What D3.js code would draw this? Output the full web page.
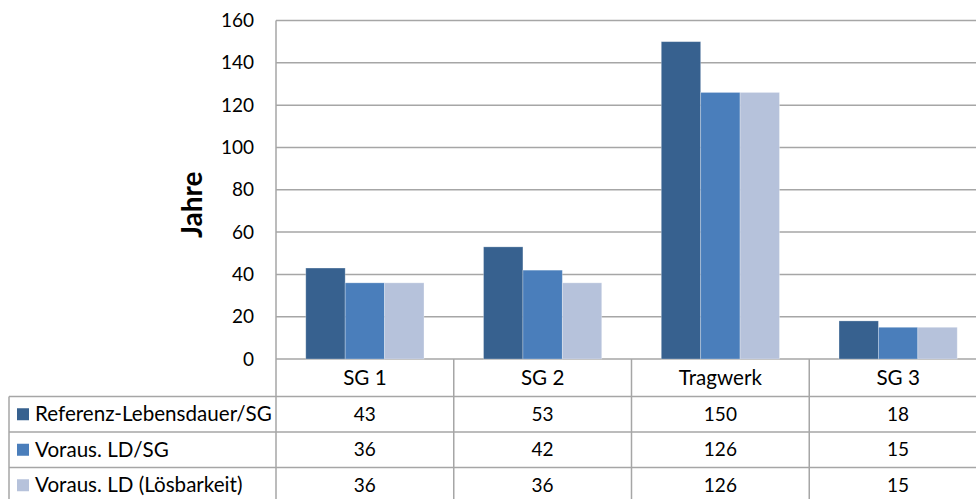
<!DOCTYPE html>
<html>
<head>
<meta charset="utf-8">
<script src="https://cdn.jsdelivr.net/npm/d3@7"></script>
<style>
  html, body { margin: 0; padding: 0; background: #fff; }
  svg { display: block; }
  text { font-family: Lato, "Open Sans", sans-serif; fill: #000; }
</style>
</head>
<body>
<svg id="chart" width="976" height="499"></svg>
<script>
// Categories (table columns) and series (table rows)
const categories = ["SG 1", "SG 2", "Tragwerk", "SG 3"];
const seriesNames = ["Referenz-Lebensdauer/SG", "Voraus. LD/SG", "Voraus. LD (Lösbarkeit)"];
const referenzLD = [43, 53, 150, 18];
const vorausLD = [36, 42, 126, 15];
const vorausLoesbarkeit = [36, 36, 126, 15];
const seriesColors = ["#37618f", "#4a7ebb", "#b6c2db"];
const yTicks = [0, 20, 40, 60, 80, 100, 120, 140, 160];

const seriesValues = [referenzLD, vorausLD, vorausLoesbarkeit];

const svg = d3.select("#chart");
const gridColor = "#a6a6a6";
const numSize = 19;     // digits: tick labels and table values
const labelSize = 20.6; // words: category headers and series names

const plot = { left: 276, right: 987, top: 20.5, bottom: 359 };
const tableLeft = 9;
const headerBottom = 396.5;
const rowH = 35.5;

const x0 = d3.scaleBand().domain(categories).range([plot.left, plot.right]).padding(0);
const y = d3.scaleLinear().domain([0, 160]).range([plot.bottom, plot.top]);
const gap = x0.bandwidth() * 0.335 / 2;
const x1 = d3.scaleBand().domain(d3.range(seriesNames.length)).range([gap, x0.bandwidth() - gap]).padding(0);

// Horizontal gridlines
svg.append("g").selectAll("line").data(yTicks).join("line")
  .attr("x1", plot.left).attr("x2", plot.right)
  .attr("y1", d => y(d)).attr("y2", d => y(d))
  .attr("stroke", gridColor).attr("stroke-width", 1.5);

// Y axis tick labels
const yAxis = d3.axisLeft(y).tickValues(yTicks).tickSize(0).tickPadding(22);
const ya = svg.append("g").attr("transform", `translate(${plot.left},0)`).call(yAxis);
ya.select(".domain").remove();
ya.selectAll("text").attr("font-size", numSize).attr("font-family", "Lato, 'Open Sans', sans-serif").attr("fill", "#000");

// Y axis title
svg.append("text")
  .attr("transform", `translate(202,${(plot.top + plot.bottom) / 2 + 15}) rotate(-90)`)
  .attr("text-anchor", "middle")
  .attr("font-size", 28).attr("font-weight", "bold")
  .text("Jahre");

// Bars
categories.forEach((cat, ci) => {
  const g = svg.append("g").attr("transform", `translate(${x0(cat)},0)`);
  g.selectAll("rect").data(seriesValues.map((s, si) => ({ si, v: s[ci] }))).join("rect")
    .attr("x", d => x1(d.si))
    .attr("width", x1.bandwidth())
    .attr("y", d => y(d.v))
    .attr("height", d => y(0) - y(d.v))
    .attr("fill", d => seriesColors[d.si])
    .attr("stroke", "rgba(255,255,255,0.35)").attr("stroke-width", 0.8);
});

// Data table lines
const tbl = svg.append("g").attr("stroke", gridColor).attr("stroke-width", 1.5);
// vertical axis line through plot and table
tbl.append("line").attr("x1", plot.left).attr("x2", plot.left).attr("y1", plot.top).attr("y2", 499);
// column separators
categories.slice(1).forEach(cat => {
  tbl.append("line").attr("x1", x0(cat)).attr("x2", x0(cat)).attr("y1", plot.bottom).attr("y2", 499);
});
// horizontal row lines
tbl.append("line").attr("x1", tableLeft).attr("x2", plot.right).attr("y1", headerBottom).attr("y2", headerBottom);
d3.range(1, seriesNames.length).forEach(i => {
  const yy = headerBottom + i * rowH;
  tbl.append("line").attr("x1", tableLeft).attr("x2", plot.right).attr("y1", yy).attr("y2", yy);
});
// left border of the legend column
tbl.append("line").attr("x1", tableLeft).attr("x2", tableLeft).attr("y1", headerBottom).attr("y2", 499);

// Header: category names
svg.append("g").selectAll("text").data(categories).join("text")
  .attr("x", d => x0(d) + x0.bandwidth() / 2)
  .attr("y", (plot.bottom + headerBottom) / 2)
  .attr("dy", "0.35em")
  .attr("text-anchor", "middle")
  .attr("font-size", labelSize)
  .text(d => d);

// Rows: legend key, series name, values
seriesNames.forEach((name, si) => {
  const cy = headerBottom + si * rowH + rowH / 2;
  svg.append("rect")
    .attr("x", 17).attr("y", cy - 6).attr("width", 12).attr("height", 12)
    .attr("fill", seriesColors[si]);
  svg.append("text")
    .attr("x", 35).attr("y", cy).attr("dy", "0.35em")
    .attr("font-size", labelSize)
    .text(name);
  svg.append("g").selectAll("text").data(seriesValues[si]).join("text")
    .attr("x", (d, ci) => x0(categories[ci]) + x0.bandwidth() / 2)
    .attr("y", cy).attr("dy", "0.35em")
    .attr("text-anchor", "middle")
    .attr("font-size", numSize)
    .text(d => d);
});
</script>
</body>
</html>
